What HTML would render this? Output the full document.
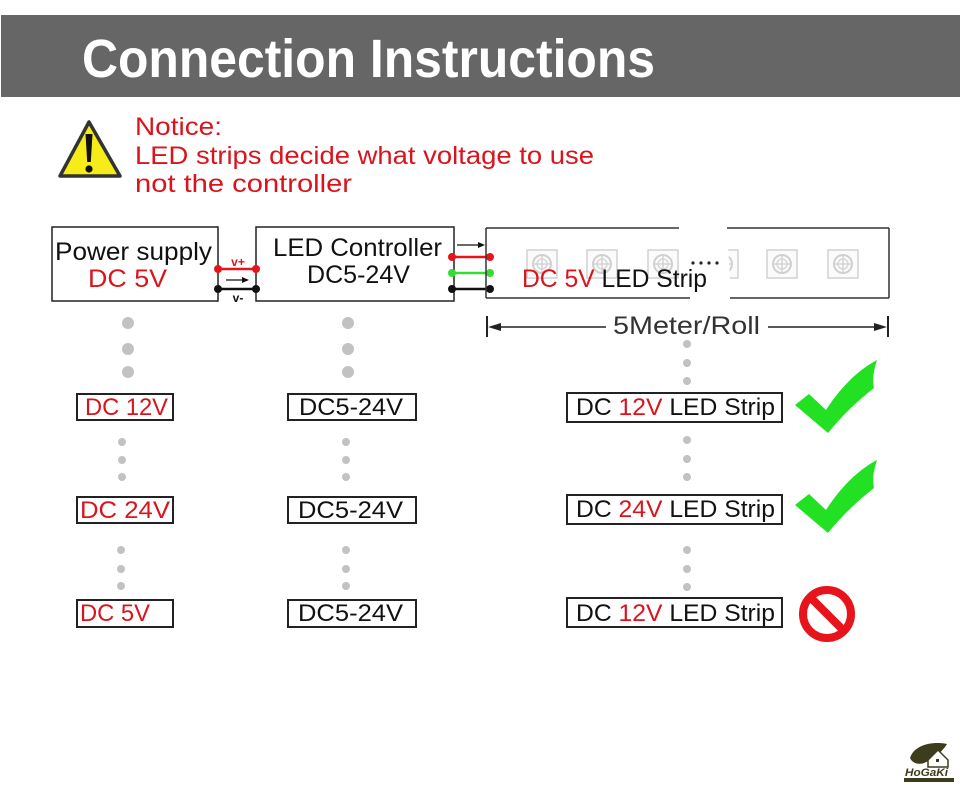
<!DOCTYPE html>
<html><head><meta charset="utf-8"><style>
html,body{margin:0;padding:0;background:#fff;}
svg{display:block;}
text{font-family:"Liberation Sans",sans-serif;}
</style></head><body>
<svg width="960" height="800" viewBox="0 0 960 800" xmlns="http://www.w3.org/2000/svg">
<defs>
<g id="chip">
<rect x="0" y="0" width="30" height="28" fill="#fbfbfb" stroke="#d2d2d2" stroke-width="1.5"/>
<circle cx="15" cy="14" r="9" fill="none" stroke="#d0d0d0" stroke-width="2"/>
<circle cx="15" cy="14" r="5" fill="none" stroke="#d8d8d8" stroke-width="1.5"/>
<line x1="15" y1="6" x2="15" y2="22" stroke="#d4d4d4" stroke-width="1.5"/>
<line x1="7" y1="14" x2="23" y2="14" stroke="#d4d4d4" stroke-width="1.5"/>
</g>
<g id="check">
<path d="M795,405 L809,394 L826,410 C840,388 858,370 877,360 C874,370 872,378 874,388 C856,402 840,418 828,433 Z" fill="#22e022"/>
</g>
</defs>

<!-- header -->
<rect x="1" y="15" width="959" height="82" fill="#666666"/>
<text x="82" y="77" font-size="54" font-weight="bold" fill="#ffffff" textLength="573" lengthAdjust="spacingAndGlyphs">Connection Instructions</text>

<!-- warning -->
<path d="M89,122 L60,176 L120,176 Z" fill="#f6ec1a" stroke="#333" stroke-width="3.5" stroke-linejoin="round"/>
<path d="M85.5,134 L92.5,134 L90.8,162 L87.2,162 Z" fill="#111"/>
<circle cx="89" cy="169" r="3.6" fill="#111"/>
<text x="135" y="135" font-size="25" fill="#d9141c" textLength="87" lengthAdjust="spacingAndGlyphs">Notice:</text>
<text x="135" y="164" font-size="25" fill="#d9141c" textLength="459" lengthAdjust="spacingAndGlyphs">LED strips decide what voltage to use</text>
<text x="135" y="192" font-size="25" fill="#d9141c" textLength="217" lengthAdjust="spacingAndGlyphs">not the controller</text>

<!-- power supply box -->
<rect x="52" y="227" width="166" height="74" fill="none" stroke="#222" stroke-width="1.5"/>
<text x="55" y="260" font-size="25" fill="#111" textLength="157" lengthAdjust="spacingAndGlyphs">Power supply</text>
<text x="88" y="287" font-size="25" fill="#d9141c" textLength="79" lengthAdjust="spacingAndGlyphs">DC 5V</text>

<!-- controller box -->
<rect x="256" y="227" width="198" height="74" fill="none" stroke="#222" stroke-width="1.5"/>
<text x="273" y="256" font-size="25" fill="#111" textLength="169" lengthAdjust="spacingAndGlyphs">LED Controller</text>
<text x="307" y="283" font-size="25" fill="#111" textLength="103" lengthAdjust="spacingAndGlyphs">DC5-24V</text>

<!-- wires PS -> controller -->
<line x1="218" y1="269" x2="256" y2="269" stroke="#e8141c" stroke-width="2.5"/>
<circle cx="218" cy="269" r="4" fill="#e8141c"/>
<circle cx="256" cy="269" r="4" fill="#e8141c"/>
<line x1="218" y1="289" x2="256" y2="289" stroke="#111" stroke-width="2.5"/>
<circle cx="218" cy="289" r="4" fill="#111"/>
<circle cx="256" cy="289" r="4" fill="#111"/>
<text x="238" y="266" font-size="12" font-weight="bold" fill="#d9141c" text-anchor="middle">v+</text>
<line x1="226" y1="280" x2="244" y2="280" stroke="#111" stroke-width="1.2"/>
<path d="M249,280 L242,277 L242,283 Z" fill="#111"/>
<text x="238" y="302" font-size="12" font-weight="bold" fill="#111" text-anchor="middle">v-</text>

<!-- wires controller -> strip -->
<line x1="457" y1="245" x2="480" y2="245" stroke="#111" stroke-width="1.2"/>
<path d="M485,245 L478,242 L478,248 Z" fill="#111"/>
<line x1="452" y1="257" x2="490" y2="257" stroke="#e8141c" stroke-width="2.5"/>
<circle cx="452" cy="257" r="4" fill="#e8141c"/>
<circle cx="490" cy="257" r="4" fill="#e8141c"/>
<line x1="452" y1="273" x2="490" y2="273" stroke="#33dd33" stroke-width="2.5"/>
<circle cx="452" cy="273" r="4" fill="#33dd33"/>
<circle cx="490" cy="273" r="4" fill="#33dd33"/>
<line x1="452" y1="289" x2="490" y2="289" stroke="#111" stroke-width="2.5"/>
<circle cx="452" cy="289" r="4" fill="#111"/>
<circle cx="490" cy="289" r="4" fill="#111"/>

<!-- strip -->
<use href="#chip" x="527" y="250"/>
<use href="#chip" x="587" y="250"/>
<use href="#chip" x="648" y="250"/>
<use href="#chip" x="708" y="250"/>
<use href="#chip" x="767" y="250"/>
<use href="#chip" x="828" y="250"/>
<path d="M679,226 L727,226 L731,300 L689,300 Z" fill="#ffffff"/>
<g stroke="#333" stroke-width="1.5" fill="none">
<line x1="486" y1="228" x2="486" y2="298"/>
<line x1="889" y1="228" x2="889" y2="298"/>
<line x1="486" y1="228" x2="679" y2="228"/>
<line x1="727" y1="228" x2="889" y2="228"/>
<line x1="486" y1="298" x2="690" y2="298"/>
<line x1="730" y1="298" x2="889" y2="298"/>
</g>
<circle cx="693" cy="263" r="1.6" fill="#222"/>
<circle cx="701" cy="263" r="1.6" fill="#222"/>
<circle cx="709" cy="263" r="1.6" fill="#222"/>
<circle cx="717" cy="263" r="1.6" fill="#222"/>
<text x="522" y="287" font-size="25" fill="#111" textLength="185" lengthAdjust="spacingAndGlyphs"><tspan fill="#d9141c">DC 5V</tspan> LED Strip</text>

<!-- dimension -->
<line x1="487" y1="316" x2="487" y2="337" stroke="#222" stroke-width="2"/>
<line x1="888" y1="316" x2="888" y2="337" stroke="#222" stroke-width="2"/>
<line x1="495" y1="327" x2="606" y2="327" stroke="#222" stroke-width="1.5"/>
<line x1="768" y1="327" x2="880" y2="327" stroke="#222" stroke-width="1.5"/>
<path d="M488,327 L501,323 L501,331 Z" fill="#222"/>
<path d="M887,327 L874,323 L874,331 Z" fill="#222"/>
<text x="613" y="334" font-size="25" fill="#333" textLength="147" lengthAdjust="spacingAndGlyphs">5Meter/Roll</text>

<!-- grey dots -->
<g fill="#c2c2c2">
<circle cx="128" cy="323" r="6"/><circle cx="128" cy="349" r="6"/><circle cx="128" cy="372" r="6"/>
<circle cx="348" cy="323" r="6"/><circle cx="348" cy="349" r="6"/><circle cx="348" cy="372" r="6"/>
<circle cx="687" cy="344" r="4"/><circle cx="687" cy="363" r="4"/><circle cx="687" cy="381" r="4"/>
<circle cx="122" cy="442" r="4"/><circle cx="122" cy="460" r="4"/><circle cx="122" cy="477" r="4"/>
<circle cx="346" cy="442" r="4"/><circle cx="346" cy="460" r="4"/><circle cx="346" cy="477" r="4"/>
<circle cx="687" cy="440" r="4"/><circle cx="687" cy="459" r="4"/><circle cx="687" cy="477" r="4"/>
<circle cx="121" cy="550" r="4"/><circle cx="121" cy="569" r="4"/><circle cx="121" cy="586" r="4"/>
<circle cx="346" cy="550" r="4"/><circle cx="346" cy="569" r="4"/><circle cx="346" cy="586" r="4"/>
<circle cx="687" cy="550" r="4"/><circle cx="687" cy="569" r="4"/><circle cx="687" cy="587" r="4"/>
</g>

<!-- rows -->
<g fill="none" stroke="#222" stroke-width="2">
<rect x="77" y="394" width="96" height="26"/>
<rect x="288" y="394" width="128" height="26"/>
<rect x="567" y="393" width="215" height="29"/>
<rect x="77" y="497" width="96" height="26"/>
<rect x="288" y="497" width="128" height="26"/>
<rect x="567" y="495" width="215" height="29"/>
<rect x="77" y="600" width="96" height="27"/>
<rect x="288" y="600" width="128" height="27"/>
<rect x="567" y="598" width="215" height="29"/>
</g>
<text x="85" y="415" font-size="24" fill="#d9141c" textLength="83" lengthAdjust="spacingAndGlyphs">DC 12V</text>
<text x="80" y="518" font-size="24" fill="#d9141c" textLength="90" lengthAdjust="spacingAndGlyphs">DC 24V</text>
<text x="80" y="621" font-size="24" fill="#d9141c" textLength="70" lengthAdjust="spacingAndGlyphs">DC 5V</text>
<text x="299" y="415" font-size="24" fill="#111" textLength="104" lengthAdjust="spacingAndGlyphs">DC5-24V</text>
<text x="298" y="518" font-size="24" fill="#111" textLength="105" lengthAdjust="spacingAndGlyphs">DC5-24V</text>
<text x="298" y="621" font-size="24" fill="#111" textLength="105" lengthAdjust="spacingAndGlyphs">DC5-24V</text>
<text x="576" y="415" font-size="24" fill="#111" textLength="199" lengthAdjust="spacingAndGlyphs">DC <tspan fill="#d9141c">12V</tspan> LED Strip</text>
<text x="576" y="517" font-size="24" fill="#111" textLength="199" lengthAdjust="spacingAndGlyphs">DC <tspan fill="#d9141c">24V</tspan> LED Strip</text>
<text x="576" y="621" font-size="24" fill="#111" textLength="199" lengthAdjust="spacingAndGlyphs">DC <tspan fill="#d9141c">12V</tspan> LED Strip</text>

<!-- checks -->
<use href="#check"/>
<use href="#check" y="100"/>

<!-- prohibition -->
<circle cx="827" cy="614" r="24" fill="none" stroke="#e8141c" stroke-width="8"/>
<line x1="810" y1="597" x2="844" y2="631" stroke="#e8141c" stroke-width="8"/>

<!-- logo -->
<path d="M910,758 C914,745 932,741 947,744 C942,752 934,759 924,763 C918,765 912,763 910,758 Z" fill="#3d3d1e"/>
<path d="M928,760 L938,750 L948,760 L948,767 L928,767 Z" fill="#ffffff" stroke="#3d3d1e" stroke-width="1.5"/>
<rect x="936" y="759" width="3" height="3" fill="#3d3d1e"/>
<text x="905" y="776" font-size="11" font-weight="bold" font-style="italic" fill="#3d3d1e" textLength="43" lengthAdjust="spacingAndGlyphs">HoGaKi</text>
<rect x="904" y="778" width="50" height="4" fill="#3d3d1e"/>
</svg>
</body></html>
